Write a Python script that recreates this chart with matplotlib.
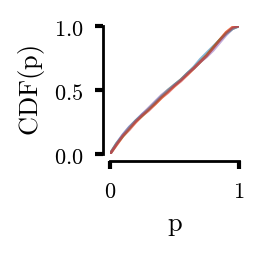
import matplotlib
matplotlib.use('Agg')
import matplotlib.pyplot as plt

plt.rcParams['mathtext.fontset'] = 'cm'
plt.rcParams['font.family'] = ['DejaVu Serif']

# p grid and CDF values for several runs
p_vals = [0.0, 0.05, 0.1, 0.15, 0.2, 0.25, 0.3, 0.35, 0.4, 0.45, 0.5,
          0.55, 0.6, 0.65, 0.7, 0.75, 0.8, 0.85, 0.9, 0.95, 1.0]
cdf_blue = [0.0, 0.08, 0.15, 0.21, 0.26, 0.31, 0.35, 0.40, 0.45, 0.49, 0.54,
            0.58, 0.63, 0.68, 0.74, 0.79, 0.84, 0.89, 0.94, 0.98, 1.0]
cdf_orange = [0.0, 0.07, 0.14, 0.20, 0.25, 0.30, 0.35, 0.39, 0.44, 0.49, 0.53,
              0.58, 0.62, 0.67, 0.72, 0.77, 0.83, 0.89, 0.95, 0.99, 1.0]
cdf_green = [0.0, 0.08, 0.14, 0.20, 0.26, 0.30, 0.35, 0.40, 0.45, 0.50, 0.54,
             0.58, 0.63, 0.67, 0.72, 0.77, 0.83, 0.89, 0.94, 0.98, 1.0]
cdf_red = [0.0, 0.07, 0.14, 0.19, 0.25, 0.30, 0.34, 0.39, 0.44, 0.48, 0.53,
           0.57, 0.62, 0.67, 0.72, 0.77, 0.83, 0.89, 0.95, 0.99, 1.0]
cdf_purple = [0.0, 0.08, 0.15, 0.21, 0.26, 0.31, 0.36, 0.41, 0.46, 0.50, 0.54,
              0.58, 0.63, 0.67, 0.72, 0.76, 0.81, 0.87, 0.93, 0.98, 1.0]

series = [cdf_blue, cdf_orange, cdf_green, cdf_purple, cdf_red]
colors = ['tab:blue', 'tab:orange', 'tab:green', 'tab:purple', 'tab:red']

fig = plt.figure(figsize=(2.66, 2.55), dpi=100)
ax = fig.add_axes([110 / 266, 100 / 255, 129 / 266, 128 / 255])

for y, c in zip(series, colors):
    ax.plot(p_vals, y, color=c, lw=2, alpha=0.55)

ax.set_xlim(0, 1)
ax.set_ylim(0, 1)
ax.set_xticks([0, 1])
ax.set_xticklabels([r'$\mathrm{0}$', r'$\mathrm{1}$'])
ax.set_yticks([0, 0.5, 1])
ax.set_yticklabels([r'$\mathrm{0.0}$', r'$\mathrm{0.5}$', r'$\mathrm{1.0}$'])
ax.tick_params(width=3, length=6, labelsize=16, pad=8)

for s in ['top', 'right']:
    ax.spines[s].set_visible(False)
for s in ['left', 'bottom']:
    ax.spines[s].set_linewidth(2)
    ax.spines[s].set_position(('outward', 5))

ax.set_xlabel(r'$\mathrm{p}$', fontsize=19, labelpad=7)
ax.set_ylabel(r'$\mathrm{CDF(p)}$', fontsize=19, labelpad=5)

fig.savefig('out.png', dpi=100)
